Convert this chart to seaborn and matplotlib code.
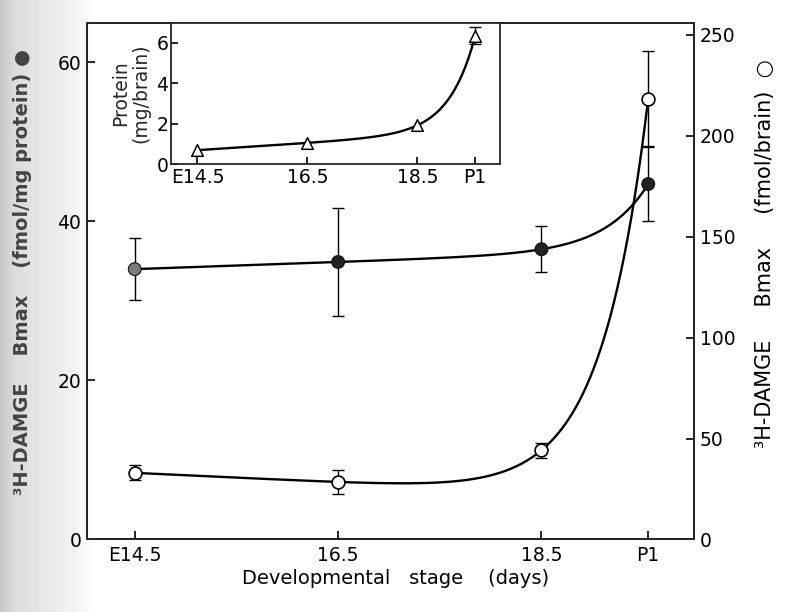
import numpy as np
import pandas as pd
import matplotlib
matplotlib.use('Agg')
import matplotlib.pyplot as plt
import seaborn as sns

# data
stages = ['E14.5', '16.5', '18.5', 'P1']
days = [14.5, 16.5, 18.5, 19.55]

# 3H-DAMGE Bmax, fmol/mg protein (filled circles, left axis)
bmax_protein = [34.0, 34.9, 36.5, 44.7]
bmax_protein_err = [3.9, 6.8, 2.9, 4.7]

# 3H-DAMGE Bmax, fmol/brain (open circles, right axis)
bmax_brain = [33.0, 28.5, 44.2, 218.4]
bmax_brain_err = [3.7, 5.8, 3.8, 23.5]

# protein, mg/brain (inset, triangles)
protein = [0.70, 1.06, 1.93, 6.35]
protein_err = [0.0, 0.0, 0.0, 0.42]


def smooth(x, y, n=300):
    # fitted curve: line + exponential rise, best rate picked from a grid
    x = np.asarray(x, float)
    y = np.asarray(y, float)
    best = None
    for k in np.linspace(0.2, 6, 600):
        A = np.column_stack([np.ones_like(x), x - x[0], np.exp(k * (x - x[-1]))])
        coef, *_ = np.linalg.lstsq(A, y, rcond=None)
        res = np.sum((A @ coef - y) ** 2)
        if best is None or res < best[0]:
            best = (res, k, coef)
    _, k, coef = best
    xs = np.linspace(x[0], x[-1], n)
    ys = coef[0] + coef[1] * (xs - x[0]) + coef[2] * np.exp(k * (xs - x[-1]))
    return pd.DataFrame({'day': xs, 'val': ys})


sns.set_style('ticks')
plt.rcParams['font.family'] = ['DejaVu Sans']
plt.rcParams['axes.linewidth'] = 1.4

fig = plt.figure(figsize=(7.87, 6.12), dpi=100)

# scanned-paper shading on the left edge
bg = fig.add_axes([0, 0, 1, 1], zorder=-10)
grad = np.interp(np.arange(787), [0, 14, 40, 75, 95], [0.78, 0.86, 0.90, 0.95, 1.0])
bg.imshow(np.tile(grad, (10, 1)), cmap='gray', vmin=0, vmax=1, aspect='auto', extent=[0, 1, 0, 1])
bg.set_axis_off()

ax = fig.add_axes([0.1105, 0.1185, 0.7713, 0.8445])
ax.patch.set_alpha(0)
ax2 = ax.twinx()

# filled circles, left axis
sns.lineplot(data=smooth(days, bmax_protein), x='day', y='val', ax=ax, color='black', lw=1.7)
ax.errorbar(days, bmax_protein, yerr=bmax_protein_err, fmt='none', ecolor='black',
            elinewidth=1.0, capsize=4, capthick=1.0)
sns.scatterplot(x=days, y=bmax_protein, hue=stages, ax=ax, legend=False, s=85,
                palette={'E14.5': '#7a7a7a', '16.5': '#222222', '18.5': '#222222', 'P1': '#222222'},
                edgecolor='#111111', linewidth=0.8, zorder=5)

# open circles, right axis
sns.lineplot(data=smooth(days, bmax_brain), x='day', y='val', ax=ax2, color='black', lw=1.7)
ax2.errorbar(days, bmax_brain, yerr=bmax_brain_err, fmt='none', ecolor='black',
             elinewidth=1.0, capsize=4, capthick=1.0)
sns.scatterplot(x=days, y=bmax_brain, ax=ax2, s=85, color='white', edgecolor='black',
                linewidth=1.2, zorder=5)

ax.set_xlim(14.03, 20.0)
ax.set_ylim(0, 65)
ax2.set_ylim(0, 256)
ax.set_xticks(days)
ax.set_xticklabels(stages)
ax.set_yticks([0, 20, 40, 60])
ax2.set_yticks([0, 50, 100, 150, 200, 250])
ax.set_xlabel('')
ax.set_ylabel('')
ax2.set_ylabel('')
for a in (ax, ax2):
    a.tick_params(direction='in', length=6, width=1.2, labelsize=13.5, pad=4, colors='black')
    for s in a.spines.values():
        s.set_linewidth(1.4)
        s.set_visible(True)
ax.tick_params(axis='x', pad=5)

fig.text(0.028, 0.555, '\u00b3H-DAMGE    Bmax    (fmol/mg protein) \u25cf', rotation=90,
         ha='center', va='center', fontsize=14, color='#444444', fontweight='bold')
fig.text(0.972, 0.585, '\u00b3H-DAMGE     Bmax     (fmol/brain)  \u25cb', rotation=90,
         ha='center', va='center', fontsize=15, color='black')
fig.text(0.503, 0.055, 'Developmental   stage    (days)', ha='center', va='center',
         fontsize=14, color='black')

# inset: protein per brain
axi = fig.add_axes([0.2173, 0.7315, 0.418, 0.2314])
axi.set_facecolor('white')
sns.lineplot(data=smooth(days, protein), x='day', y='val', ax=axi, color='black', lw=1.7)
err_idx = [i for i, e in enumerate(protein_err) if e > 0]
axi.errorbar([days[i] for i in err_idx], [protein[i] for i in err_idx],
             yerr=[protein_err[i] for i in err_idx], fmt='none', ecolor='black',
             elinewidth=1.0, capsize=4, capthick=1.0)
sns.scatterplot(x=days, y=protein, ax=axi, marker='^', s=70, color='white',
                edgecolor='black', linewidth=1.1, zorder=5)
axi.set_xlim(14.02, 20.0)
axi.set_ylim(0, 7.0)
axi.set_xticks(days)
axi.set_xticklabels(stages)
axi.set_yticks([0, 2, 4, 6])
axi.set_xlabel('')
axi.set_ylabel('Protein\n(mg/brain)', fontsize=13.5, linespacing=1.1, labelpad=4)
axi.tick_params(direction='in', length=5, width=1.2, labelsize=13.5, pad=2, colors='black')
axi.tick_params(axis='x', pad=3)
for s in axi.spines.values():
    s.set_linewidth(1.3)

fig.savefig('out.png', dpi=100)
